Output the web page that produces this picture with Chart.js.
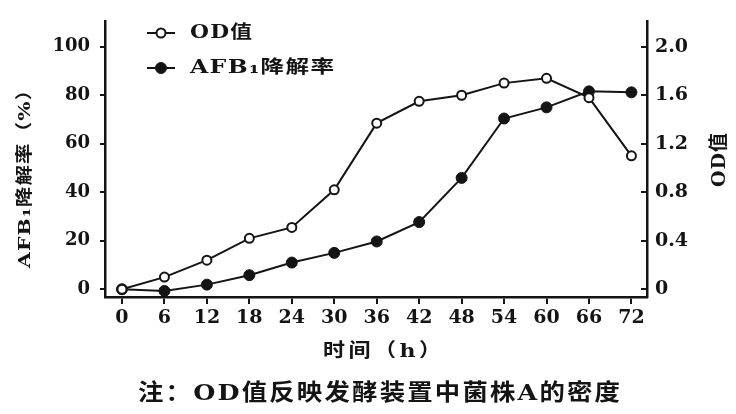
<!DOCTYPE html>
<html>
<head>
<meta charset="utf-8">
<script src="https://cdn.jsdelivr.net/npm/chart.js@4/dist/chart.umd.min.js"></script>
<style>
  html, body { margin: 0; padding: 0; background: #fff; }
  canvas { display: block; }
</style>
</head>
<body>
<canvas id="c" width="736" height="414"></canvas>
<script>
// Sampling times (h)
const hours = [0, 6, 12, 18, 24, 30, 36, 42, 48, 54, 60, 66, 72];
// OD value of the culture (right axis)
const odValues = [0, 0.10, 0.24, 0.42, 0.51, 0.82, 1.37, 1.55, 1.60, 1.70, 1.74, 1.58, 1.10];
// AFB1 degradation rate, % (left axis)
const afbRate = [0, -0.7, 1.9, 5.8, 11, 15, 19.7, 27.7, 45.9, 70.4, 75, 81.6, 81.2];
// Axis tick labels
const rateTicks = [0, 20, 40, 60, 80, 100];
const odTicks = [0, 0.4, 0.8, 1.2, 1.6, 2.0];

const INK = '#141414';
const NUM_FONT = '"DejaVu Serif", "Liberation Serif", serif';
const CJK_FONT = '"DejaVu Serif", "Noto Sans CJK SC", serif';

const odSeries = hours.map((h, i) => ({ x: h, y: odValues[i] }));
const afbSeries = hours.map((h, i) => ({ x: h, y: afbRate[i] }));

// text widened horizontally so that it spans a given width, centred on (cx, cy)
function wideText(ctx, text, cx, cy, width, spacing) {
  ctx.letterSpacing = spacing + 'px';
  const w = ctx.measureText(text).width - spacing;
  const s = width / w;
  ctx.save();
  ctx.translate(cx - width / 2, cy);
  ctx.scale(s, 1);
  ctx.textAlign = 'left';
  ctx.textBaseline = 'middle';
  ctx.fillText(text, 0, 0);
  ctx.restore();
  ctx.letterSpacing = '0px';
}

const extras = {
  id: 'extras',
  afterDraw(chart) {
    const ctx = chart.ctx;
    const yR = chart.scales.yR;
    ctx.save();
    // inward tick marks on the OD axis
    ctx.strokeStyle = INK;
    ctx.lineWidth = 2;
    odTicks.forEach(v => {
      const py = Math.round(yR.getPixelForValue(v));
      ctx.beginPath();
      ctx.moveTo(yR.left - 6, py);
      ctx.lineTo(yR.left, py);
      ctx.stroke();
    });

    // legend
    const rows = [
      { ds: chart.data.datasets[0], y: 33, label: 'OD值', w: 62 },
      { ds: chart.data.datasets[1], y: 68, label: 'AFB₁降解率', w: 144 }
    ];
    rows.forEach(r => {
      ctx.strokeStyle = INK;
      ctx.lineWidth = 2;
      ctx.beginPath();
      ctx.moveTo(147, r.y);
      ctx.lineTo(175, r.y);
      ctx.stroke();
      ctx.beginPath();
      ctx.arc(161, r.y, r.ds.pointRadius, 0, Math.PI * 2);
      ctx.fillStyle = r.ds.pointBackgroundColor;
      ctx.fill();
      ctx.lineWidth = r.ds.pointBorderWidth;
      ctx.stroke();
      ctx.fillStyle = INK;
      ctx.font = 'bold 18px ' + CJK_FONT;
      wideText(ctx, r.label, 190 + r.w / 2, r.y, r.w, 1);
    });

    ctx.fillStyle = INK;
    // x axis title
    ctx.font = 'bold 19px ' + CJK_FONT;
    wideText(ctx, '时间（h）', 382, 352, 118, 3);

    // note under the chart
    ctx.font = 'bold 23px ' + CJK_FONT;
    wideText(ctx, '注：OD值反映发酵装置中菌株A的密度', 379, 394, 482, 2);

    // left axis title
    ctx.save();
    ctx.translate(26, 174);
    ctx.rotate(-Math.PI / 2);
    ctx.font = 'bold 17px ' + CJK_FONT;
    wideText(ctx, 'AFB₁降解率（%）', 0, 0, 188, 1);
    ctx.restore();

    // right axis title
    ctx.save();
    ctx.translate(720, 160);
    ctx.rotate(-Math.PI / 2);
    ctx.font = 'bold 19px ' + CJK_FONT;
    wideText(ctx, 'OD值', 0, 0, 54, 1);
    ctx.restore();

    ctx.restore();
  }
};

new Chart(document.getElementById('c'), {
  type: 'line',
  data: {
    datasets: [
      {
        label: 'OD值',
        data: odSeries,
        yAxisID: 'yR',
        borderColor: INK,
        borderWidth: 2,
        pointRadius: 4.5,
        pointBorderWidth: 2,
        pointBackgroundColor: '#ffffff',
        pointBorderColor: INK,
        tension: 0
      },
      {
        label: 'AFB₁降解率',
        data: afbSeries,
        yAxisID: 'y',
        borderColor: INK,
        borderWidth: 2,
        pointRadius: 5.5,
        pointBorderWidth: 1,
        pointBackgroundColor: INK,
        pointBorderColor: INK,
        tension: 0
      }
    ]
  },
  options: {
    responsive: false,
    animation: false,
    devicePixelRatio: 1,
    layout: { padding: { top: 10, left: 0, right: 0, bottom: 0 } },
    plugins: { legend: { display: false }, tooltip: { enabled: false } },
    scales: {
      x: {
        type: 'linear',
        min: -2.4,
        max: 74.2,
        afterBuildTicks: s => { s.ticks = hours.map(v => ({ value: v })); },
        afterFit: s => { s.height = 117; },
        grid: { drawOnChartArea: false, drawTicks: true, tickLength: 7, color: INK, lineWidth: 2 },
        border: { display: true, color: INK, width: 2.5 },
        ticks: {
          color: INK,
          padding: 3,
          maxRotation: 0,
          autoSkip: false,
          font: { family: NUM_FONT, size: 19, weight: 'bold' }
        }
      },
      y: {
        position: 'left',
        min: -3.2,
        max: 110.7,
        afterBuildTicks: s => { s.ticks = rateTicks.map(v => ({ value: v })); },
        afterFit: s => { s.width = 105; },
        grid: { drawOnChartArea: false, drawTicks: true, tickLength: 5, color: INK, lineWidth: 2 },
        border: { display: true, color: INK, width: 2.5 },
        ticks: {
          color: INK,
          padding: 10,
          font: { family: NUM_FONT, size: 18, weight: 'bold' }
        }
      },
      yR: {
        position: 'right',
        min: -0.064,
        max: 2.214,
        afterBuildTicks: s => { s.ticks = odTicks.map(v => ({ value: v })); },
        afterFit: s => { s.width = 89; },
        grid: { drawOnChartArea: false, drawTicks: false, color: INK },
        border: { display: true, color: INK, width: 2.5 },
        ticks: {
          color: INK,
          padding: 8,
          callback: v => v === 0 ? '0' : v.toFixed(1),
          font: { family: NUM_FONT, size: 19, weight: 'bold' }
        }
      }
    }
  },
  plugins: [extras]
});
</script>
</body>
</html>
